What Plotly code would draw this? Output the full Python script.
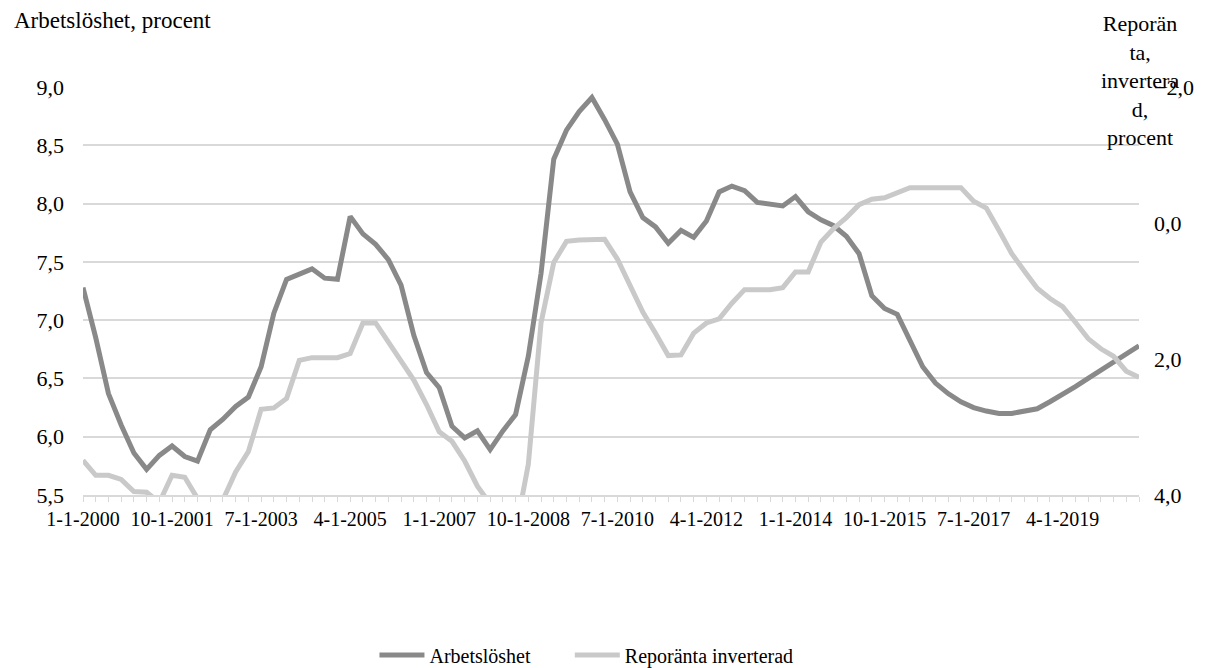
import plotly.graph_objects as go

# Quarterly categories 2000Q1 .. 2020Q4 (month-day-year labels, as in the source)
years = list(range(2000, 2021))
months = [1, 4, 7, 10]
categories = [f"{m}-1-{y}" for y in years for m in months]

# Tick labels shown on the x axis (every 7th quarter)
tick_labels = ["1-1-2000", "10-1-2001", "7-1-2003", "4-1-2005", "1-1-2007",
               "10-1-2008", "7-1-2010", "4-1-2012", "1-1-2014", "10-1-2015",
               "7-1-2017", "4-1-2019"]

# Arbetslöshet, procent (left axis)
arbetsloshet = [
    7.28, 6.85, 6.37, 6.10, 5.86, 5.72, 5.84, 5.92, 5.83, 5.79,
    6.06, 6.15, 6.26, 6.34, 6.60, 7.06, 7.35, 7.39, 7.44, 7.36,
    7.35, 7.89, 7.74, 7.65, 7.52, 7.30, 6.87, 6.55, 6.42, 6.09,
    5.99, 6.05, 5.89, 6.05, 6.19, 6.69, 7.40, 8.38, 8.63, 8.79,
    8.91, 8.72, 8.51, 8.10, 7.88, 7.80, 7.66, 7.77, 7.71, 7.85,
    8.10, 8.15, 8.11, 8.01, 8.00, 7.98, 8.06, 7.93, 7.86, 7.81,
    7.72, 7.57, 7.21, 7.10, 7.05, 6.82, 6.60, 6.46, 6.37, 6.30,
    6.25, 6.22, 6.20, 6.20, 6.22, 6.24, 6.30, 6.36, 6.43, 6.50,
    6.57, 6.64, 6.72, 6.78,
]

# Reporänta, procent (right axis, inverted)
reporanta = [
    3.49, 3.71, 3.71, 3.77, 3.95, 3.96, 4.11, 3.71, 3.74, 4.05,
    4.15, 4.07, 3.66, 3.36, 2.74, 2.72, 2.58, 2.02, 1.98, 1.98,
    1.98, 1.92, 1.47, 1.47, 1.75, 2.02, 2.31, 2.67, 3.07, 3.21,
    3.50, 3.87, 4.13, 4.24, 4.54, 3.55, 1.47, 0.58, 0.27, 0.25,
    0.25, 0.24, 0.53, 0.92, 1.31, 1.62, 1.95, 1.94, 1.62, 1.47,
    1.41, 1.18, 0.98, 0.98, 0.98, 0.95, 0.72, 0.72, 0.28, 0.08,
    -0.08, -0.27, -0.35, -0.37, -0.45, -0.52, -0.52, -0.52, -0.52, -0.52,
    -0.32, -0.22, 0.11, 0.45, 0.71, 0.96, 1.11, 1.23, 1.46, 1.70,
    1.85, 1.96, 2.18, 2.27,
]

left_ticks = [5.5, 6.0, 6.5, 7.0, 7.5, 8.0, 8.5, 9.0]
right_ticks = [-2.0, 0.0, 2.0, 4.0]

FONT = "Liberation Serif, Times New Roman, serif"
DARK = "#898989"
LIGHT = "#c9c9c9"
GRID = "#d9d9d9"

fig = go.Figure()
fig.add_trace(go.Scatter(
    x=categories, y=arbetsloshet, name="Arbetslöshet", mode="lines",
    line=dict(color=DARK, width=5), yaxis="y", legend="legend",
))
fig.add_trace(go.Scatter(
    x=categories, y=reporanta, name="Reporänta inverterad", mode="lines",
    line=dict(color=LIGHT, width=5), yaxis="y2", legend="legend2",
))

ticktext = [c if c in tick_labels else "" for c in categories]

legend_style = dict(orientation="h", xanchor="left", y=-0.392, yanchor="middle",
                    font=dict(family=FONT, size=20, color="black"),
                    itemwidth=45, bgcolor="rgba(0,0,0,0)")

# The page body adds an 8px offset, so the figure is 8px smaller on each axis
fig.update_layout(
    width=1199, height=660,
    margin=dict(l=75, r=68, t=79, b=173, autoexpand=False),
    paper_bgcolor="white", plot_bgcolor="white",
    separators=",.",
    font=dict(family=FONT, size=20, color="black"),
    showlegend=True,
    legend=dict(x=0.276, **legend_style),
    legend2=dict(x=0.461, **legend_style),
    xaxis=dict(
        type="category", range=[0, len(categories) - 1],
        tickmode="array", tickvals=categories, ticktext=ticktext,
        ticks="outside", ticklen=5, tickcolor=GRID, tickwidth=1,
        showline=True, linecolor=GRID, linewidth=1.5,
        showgrid=False, zeroline=False, tickangle=0,
        tickfont=dict(family=FONT, size=20, color="black"),
    ),
    yaxis=dict(
        range=[5.5, 9.0], tickmode="array", tickvals=left_ticks,
        tickformat=".1f", showgrid=True, gridcolor=GRID, gridwidth=1.5,
        zeroline=False, showline=False, ticks="", ticklabelstandoff=18,
        tickfont=dict(family=FONT, size=22, color="black"),
    ),
    yaxis2=dict(
        overlaying="y", side="right", range=[4.0, -2.0],
        tickmode="array", tickvals=right_ticks, tickformat=".1f",
        showgrid=False, zeroline=False, showline=False, ticks="",
        ticklabelstandoff=14,
        tickfont=dict(family=FONT, size=22, color="black"),
    ),
)

fig.add_annotation(
    text="Arbetslöshet, procent", xref="paper", yref="paper",
    x=-0.0672, y=1.164, xanchor="left", yanchor="middle", showarrow=False,
    font=dict(family=FONT, size=23, color="black"),
)
fig.add_annotation(
    text="Reporän<br>ta,<br>invertera<br>d,<br>procent", xref="paper", yref="paper",
    x=1.001, y=1.19, xanchor="center", yanchor="top", showarrow=False, align="center",
    font=dict(family=FONT, size=22, color="black"),
)

fig.write_html("out.html")
